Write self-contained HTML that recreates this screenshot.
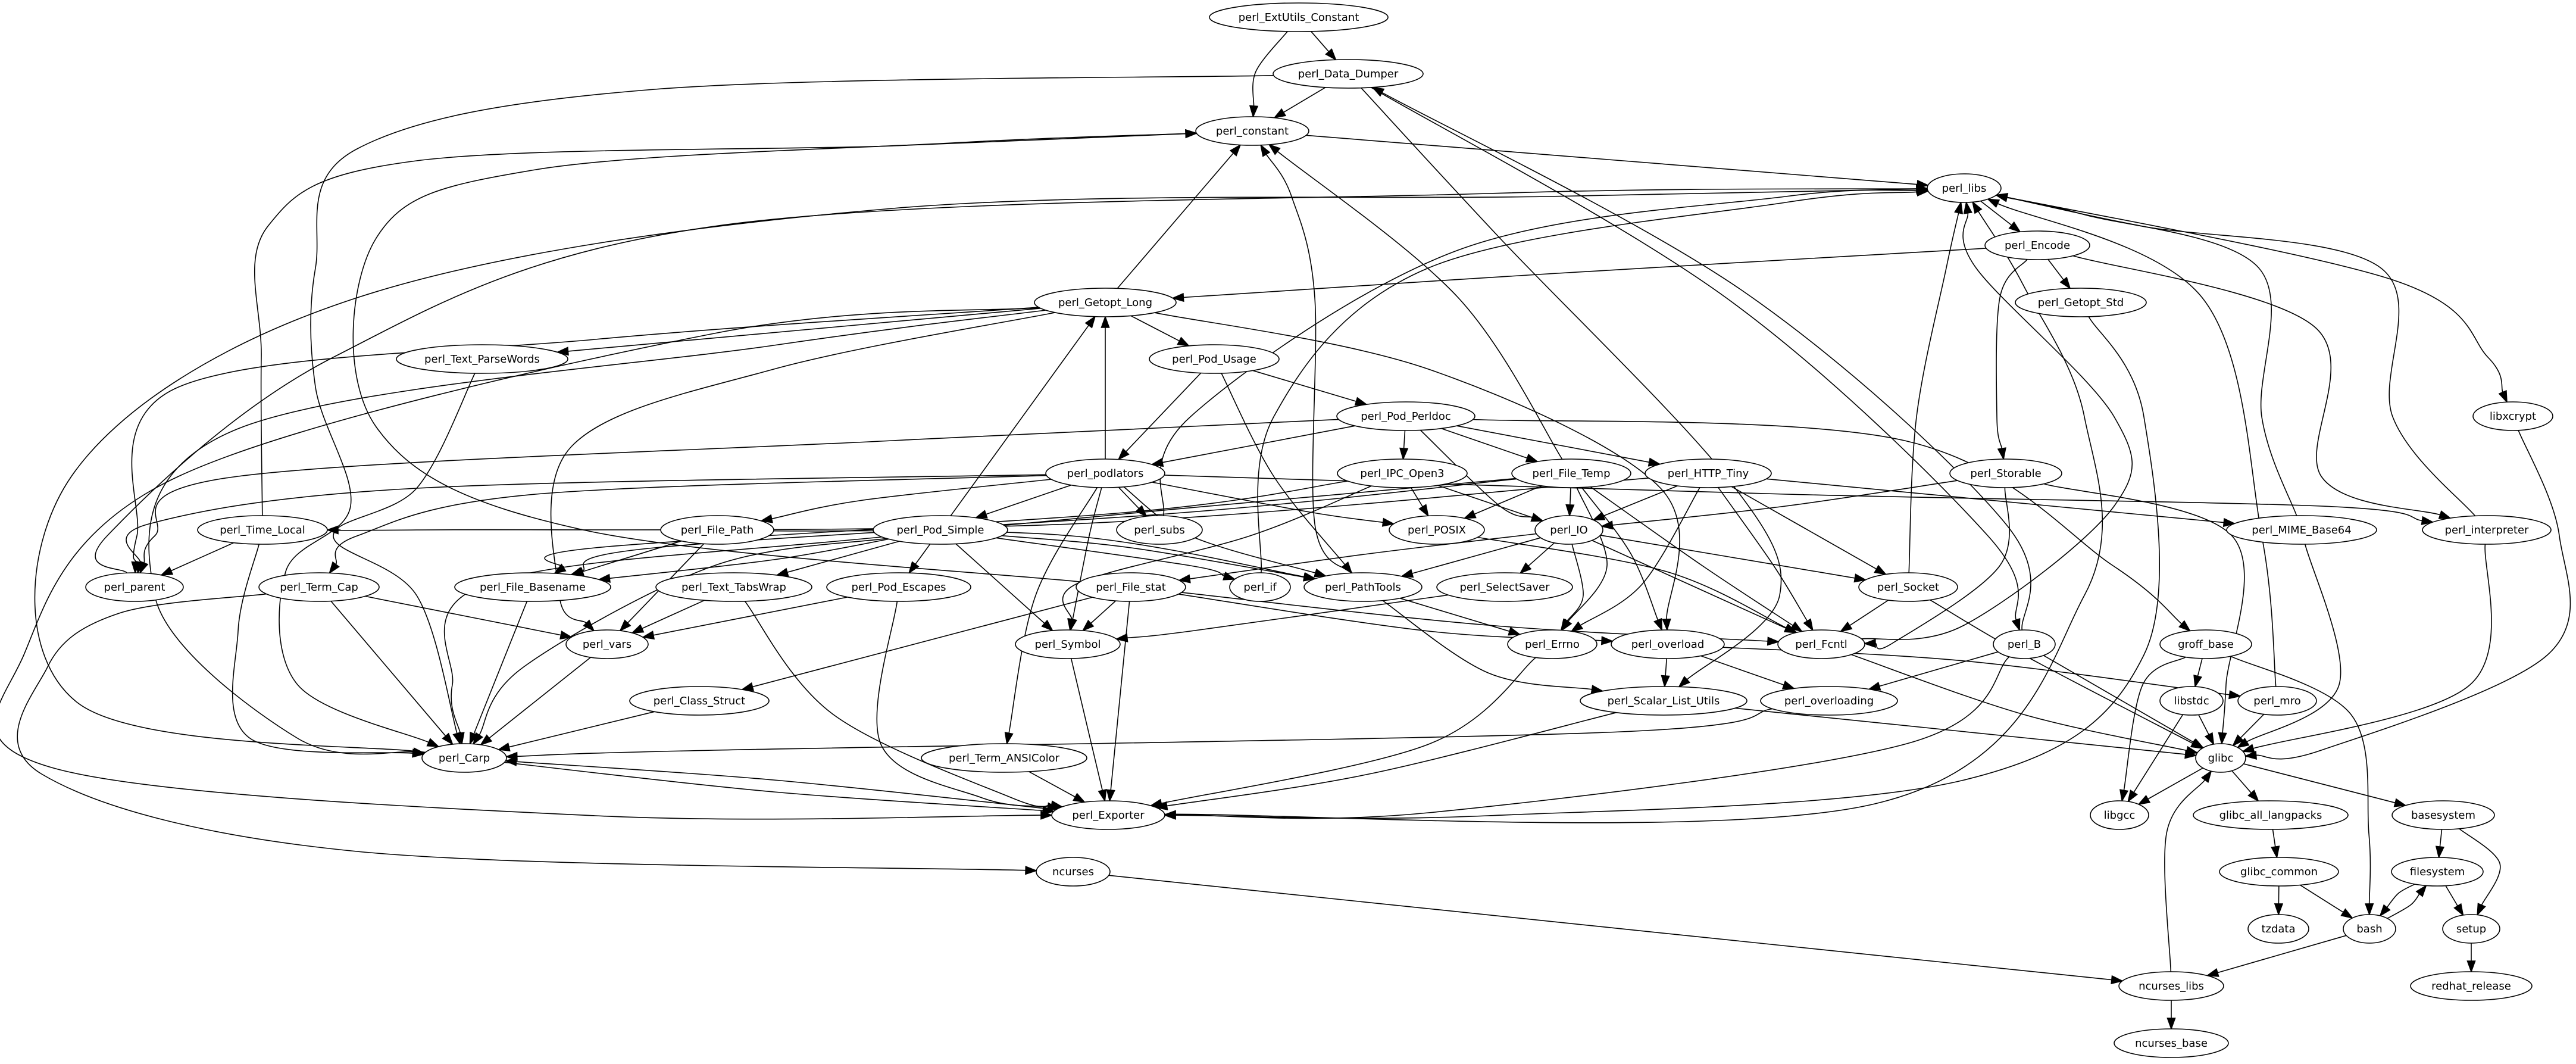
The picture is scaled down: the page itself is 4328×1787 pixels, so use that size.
<!DOCTYPE html>
<html><head><meta charset="utf-8">
<style>
html,body{margin:0;padding:0;background:#fff;}
svg{display:block;}
text{font-family:"DejaVu Sans","Liberation Sans",sans-serif;font-size:18px;fill:#000;}
</style></head>
<body>
<svg id="g" xmlns="http://www.w3.org/2000/svg" width="4328" height="1787" viewBox="0 0 4328 1787">
<rect width="4328" height="1787" fill="#fff"/>
<g id="edges" fill="none" stroke="#000" stroke-width="1.6"></g>
<g id="arrows" fill="#000" stroke="#000" stroke-width="1.6"></g>
<g id="nodes" fill="#fff" stroke="#000" stroke-width="1.6">
<ellipse cx="2182" cy="29" rx="150" ry="24"/>
<ellipse cx="2265" cy="124" rx="126" ry="24"/>
<ellipse cx="2104" cy="220" rx="95" ry="24"/>
<ellipse cx="3300" cy="316" rx="62" ry="24"/>
<ellipse cx="3423" cy="412" rx="88" ry="24"/>
<ellipse cx="1857" cy="508" rx="119" ry="24"/>
<ellipse cx="3496" cy="508" rx="110" ry="24"/>
<ellipse cx="810" cy="603" rx="144" ry="24"/>
<ellipse cx="2040" cy="603" rx="109" ry="24"/>
<ellipse cx="2362" cy="699" rx="116" ry="24"/>
<ellipse cx="4222" cy="699" rx="67" ry="24"/>
<ellipse cx="1857" cy="795" rx="100" ry="24"/>
<ellipse cx="2356" cy="795" rx="109" ry="24"/>
<ellipse cx="2640" cy="795" rx="100" ry="24"/>
<ellipse cx="2870" cy="795" rx="106" ry="24"/>
<ellipse cx="3370" cy="795" rx="94" ry="24"/>
<ellipse cx="441" cy="890" rx="109" ry="24"/>
<ellipse cx="1205" cy="890" rx="95" ry="24"/>
<ellipse cx="1580" cy="890" rx="113" ry="24"/>
<ellipse cx="1948" cy="890" rx="72" ry="24"/>
<ellipse cx="2414" cy="890" rx="80" ry="24"/>
<ellipse cx="2636" cy="890" rx="57" ry="24"/>
<ellipse cx="3867" cy="890" rx="126" ry="24"/>
<ellipse cx="4178" cy="890" rx="108" ry="24"/>
<ellipse cx="226" cy="986" rx="82" ry="24"/>
<ellipse cx="536" cy="986" rx="101" ry="24"/>
<ellipse cx="895" cy="986" rx="131" ry="24"/>
<ellipse cx="1233" cy="986" rx="131" ry="24"/>
<ellipse cx="1510" cy="986" rx="121" ry="24"/>
<ellipse cx="1900" cy="986" rx="92" ry="24"/>
<ellipse cx="2117" cy="986" rx="51" ry="24"/>
<ellipse cx="2290" cy="986" rx="99" ry="24"/>
<ellipse cx="2528" cy="986" rx="114" ry="24"/>
<ellipse cx="3206" cy="986" rx="83" ry="24"/>
<ellipse cx="1020" cy="1082" rx="69" ry="24"/>
<ellipse cx="1794" cy="1082" rx="88" ry="24"/>
<ellipse cx="2608" cy="1082" rx="75" ry="24"/>
<ellipse cx="2802" cy="1082" rx="95" ry="24"/>
<ellipse cx="3060" cy="1082" rx="73" ry="24"/>
<ellipse cx="3401" cy="1082" rx="52" ry="24"/>
<ellipse cx="3706" cy="1082" rx="77" ry="24"/>
<ellipse cx="1175" cy="1177" rx="117" ry="24"/>
<ellipse cx="2795" cy="1177" rx="140" ry="24"/>
<ellipse cx="3073" cy="1177" rx="115" ry="24"/>
<ellipse cx="3682" cy="1177" rx="53" ry="24"/>
<ellipse cx="3826" cy="1177" rx="66" ry="24"/>
<ellipse cx="780" cy="1273" rx="71" ry="24"/>
<ellipse cx="1687" cy="1273" rx="139" ry="24"/>
<ellipse cx="3731" cy="1273" rx="42" ry="24"/>
<ellipse cx="1862" cy="1369" rx="95" ry="24"/>
<ellipse cx="3561" cy="1369" rx="49" ry="24"/>
<ellipse cx="3815" cy="1369" rx="130" ry="24"/>
<ellipse cx="4105" cy="1369" rx="86" ry="24"/>
<ellipse cx="1803" cy="1464" rx="62" ry="24"/>
<ellipse cx="3829" cy="1464" rx="100" ry="24"/>
<ellipse cx="4095" cy="1464" rx="77" ry="24"/>
<ellipse cx="3828" cy="1560" rx="51" ry="24"/>
<ellipse cx="3981" cy="1560" rx="44" ry="24"/>
<ellipse cx="4152" cy="1560" rx="48" ry="24"/>
<ellipse cx="3648" cy="1656" rx="88" ry="24"/>
<ellipse cx="4152" cy="1656" rx="102" ry="24"/>
<ellipse cx="3648" cy="1752" rx="96" ry="24"/>
</g>
<g text-anchor="middle">
<text x="2182" y="35">perl_ExtUtils_Constant</text>
<text x="2265" y="130">perl_Data_Dumper</text>
<text x="2104" y="226">perl_constant</text>
<text x="3300" y="322">perl_libs</text>
<text x="3423" y="418">perl_Encode</text>
<text x="1857" y="514">perl_Getopt_Long</text>
<text x="3496" y="514">perl_Getopt_Std</text>
<text x="810" y="609">perl_Text_ParseWords</text>
<text x="2040" y="609">perl_Pod_Usage</text>
<text x="2362" y="705">perl_Pod_Perldoc</text>
<text x="4222" y="705">libxcrypt</text>
<text x="1857" y="801">perl_podlators</text>
<text x="2356" y="801">perl_IPC_Open3</text>
<text x="2640" y="801">perl_File_Temp</text>
<text x="2870" y="801">perl_HTTP_Tiny</text>
<text x="3370" y="801">perl_Storable</text>
<text x="441" y="896">perl_Time_Local</text>
<text x="1205" y="896">perl_File_Path</text>
<text x="1580" y="896">perl_Pod_Simple</text>
<text x="1948" y="896">perl_subs</text>
<text x="2414" y="896">perl_POSIX</text>
<text x="2636" y="896">perl_IO</text>
<text x="3867" y="896">perl_MIME_Base64</text>
<text x="4178" y="896">perl_interpreter</text>
<text x="226" y="992">perl_parent</text>
<text x="536" y="992">perl_Term_Cap</text>
<text x="895" y="992">perl_File_Basename</text>
<text x="1233" y="992">perl_Text_TabsWrap</text>
<text x="1510" y="992">perl_Pod_Escapes</text>
<text x="1900" y="992">perl_File_stat</text>
<text x="2117" y="992">perl_if</text>
<text x="2290" y="992">perl_PathTools</text>
<text x="2528" y="992">perl_SelectSaver</text>
<text x="3206" y="992">perl_Socket</text>
<text x="1020" y="1088">perl_vars</text>
<text x="1794" y="1088">perl_Symbol</text>
<text x="2608" y="1088">perl_Errno</text>
<text x="2802" y="1088">perl_overload</text>
<text x="3060" y="1088">perl_Fcntl</text>
<text x="3401" y="1088">perl_B</text>
<text x="3706" y="1088">groff_base</text>
<text x="1175" y="1183">perl_Class_Struct</text>
<text x="2795" y="1183">perl_Scalar_List_Utils</text>
<text x="3073" y="1183">perl_overloading</text>
<text x="3682" y="1183">libstdc</text>
<text x="3826" y="1183">perl_mro</text>
<text x="780" y="1279">perl_Carp</text>
<text x="1687" y="1279">perl_Term_ANSIColor</text>
<text x="3731" y="1279">glibc</text>
<text x="1862" y="1375">perl_Exporter</text>
<text x="3561" y="1375">libgcc</text>
<text x="3815" y="1375">glibc_all_langpacks</text>
<text x="4105" y="1375">basesystem</text>
<text x="1803" y="1470">ncurses</text>
<text x="3829" y="1470">glibc_common</text>
<text x="4095" y="1470">filesystem</text>
<text x="3828" y="1566">tzdata</text>
<text x="3981" y="1566">bash</text>
<text x="4152" y="1566">setup</text>
<text x="3648" y="1662">ncurses_libs</text>
<text x="4152" y="1662">redhat_release</text>
<text x="3648" y="1758">ncurses_base</text>
</g>
</svg>
<script>
(function(){
var N={EC:[2182,29,150],DD:[2265,124,126],CO:[2104,220,95],LI:[3300,316,62],EN:[3423,412,88],
GL:[1857,508,119],GS:[3496,508,110],TP:[810,603,144],PU:[2040,603,109],PP:[2362,699,116],LX:[4222,699,67],
PO:[1857,795,100],IPC:[2356,795,109],FT:[2640,795,100],HT:[2870,795,106],ST:[3370,795,94],
TL:[441,890,109],FP:[1205,890,95],PS:[1580,890,113],SU:[1948,890,72],PX:[2414,890,80],IO:[2636,890,57],MB:[3867,890,126],IN:[4178,890,108],
PA:[226,986,82],TC:[536,986,101],FB:[895,986,131],TW:[1233,986,131],PE:[1510,986,121],FS:[1900,986,92],IF:[2117,986,51],PT:[2290,986,99],SS:[2528,986,114],SO:[3206,986,83],
VA:[1020,1082,69],SY:[1794,1082,88],ER:[2608,1082,75],OV:[2802,1082,95],FC:[3060,1082,73],B:[3401,1082,52],GB:[3706,1082,77],
CS:[1175,1177,117],SL:[2795,1177,140],OL:[3073,1177,115],LS:[3682,1177,53],MR:[3826,1177,66],
CA:[780,1273,71],TA:[1687,1273,139],GC:[3731,1273,42],EX:[1862,1369,95],LG:[3561,1369,49],GA:[3815,1369,130],BS:[4105,1369,86],
NC:[1803,1464,62],GCO:[3829,1464,100],FSY:[4095,1464,77],TZ:[3828,1560,51],BA:[3981,1560,44],SE:[4152,1560,48],
NL:[3648,1656,88],RR:[4152,1656,102],NB:[3648,1752,96]};
var E=[
["EC","DD"],["EC","CO",[[2110,120]]],["DD","CO"],
["DD","CA",[[1100,150],[600,250],[530,450],[530,650],[589,850],[480,960],[500,1150]]],
["DD","SL",[[2520,400],[2900,800],[2990,1000]]],
["DD","B",[[2900,500],[3340,900]]],["B","DD",[[3370,880],[2930,490]]],
["CO","LI"],
["TL","CO",[[439,600],[450,380],[700,270],[1500,245]]],
["FS","CO",[[980,890],[632,717],[632,400],[900,285],[1600,240]]],
["GL","CO"],["PT","CO",[[2209,880],[2209,500],[2170,330]]],["FT","CO",[[2450,500]]],
["LI","EN"],["LI","LX",[[4020,470],[4180,600]]],
["CA","LI",[[130,1180],[120,800],[600,500],[1500,350],[2600,330]]],
["PA","LI",[[180,900],[560,600],[1200,380],[2500,325]]],
["EX","LI",[[3150,1350],[3502,1000],[3502,700],[3400,480]]],
["IF","LI",[[2140,700],[2400,450],[3000,340]]],
["SU","LI",[[2000,700],[2450,420],[3000,330]]],
["SO","LI",[[3220,700],[3270,450]]],
["FC","LI",[[3300,1050],[3552,850],[3552,700],[3320,450]]],
["MB","LI",[[3800,700],[3795,450],[3500,360]]],
["IN","LI",[[4020,700],[4000,450],[3600,380]]],
["GL","TP"],["GL","PU"],
["GL","EX",[[1200,560],[300,800],[40,1100],[90,1290],[1000,1370]]],
["GL","PA",[[1000,570],[300,650],[230,900]]],
["GL","CA",[[1300,580],[400,720],[260,1000],[500,1240]]],
["GL","VA",[[1300,620],[960,750],[940,1000]]],
["GL","OV",[[2400,620],[2790,820]]],
["EN","GL",[[2600,460]]],["EN","GS"],["EN","ST",[[3360,500],[3355,700]]],["EN","IN",[[3890,550],[3900,800]]],
["GS","EX",[[3602,700],[3602,1100],[3300,1310],[2500,1370]]],
["TP","CA",[[700,820],[560,900],[700,1000]]],
["PU","PO"],["PU","PP"],["PU","PT",[[2140,800]]],
["PP","PO"],["PP","IPC"],["PP","FT"],["PP","HT"],["PP","IO",[[2520,850]]],
["PP","PA",[[1500,740],[400,800],[260,900]]],["PP","GB",[[3200,740],[3550,950]]],
["PO","GL"],["PO","PS"],["PO","SU"],["PO","FP",[[1450,840]]],["PO","TC",[[900,830],[600,900]]],
["PO","PT",[[2000,900]]],["PO","SY",[[1830,900]]],["PO","TA",[[1740,1000]]],["PO","PA",[[700,820],[250,880]]],
["PO","IN",[[3000,830],[3900,850]]],["PO","PX",[[2200,860]]],
["IPC","PX"],["IPC","IO"],["IPC","SY",[[2100,900],[1810,980]]],["IPC","FB",[[1900,860],[1000,920]]],
["FT","IO"],["FT","PX"],["FT","ER",[[2700,950]]],["FT","FC",[[2860,950]]],["FT","OV",[[2740,930]]],
["FT","FB",[[2000,860],[1100,920]]],["FT","CA",[[1500,900],[820,980],[760,1150]]],
["HT","IO"],["HT","SO"],["HT","FC",[[2980,950]]],["HT","ER",[[2760,980]]],["HT","TL",[[1800,880],[700,890]]],["HT","MB"],
["ST","IO",[[3000,850]]],["ST","FC",[[3360,950],[3180,1080]]],["ST","GC",[[3750,900],[3740,1150]]],
["TL","PA"],["TL","CA",[[400,1060],[420,1240]]],
["FP","FB"],["FP","VA"],["FP","PT",[[1800,900]]],
["PS","GL"],["PS","FB",[[1300,940]]],["PS","TW"],["PS","PE"],["PS","SY"],["PS","IF",[[2000,950]]],
["PS","PT",[[1900,920]]],["PS","CA",[[1200,950],[880,1120]]],
["IO","PT"],["IO","SS"],["IO","ER",[[2660,1000]]],["IO","FS",[[2300,930]]],["IO","FC"],["IO","SO"],
["PX","FC",[[2800,960]]],
["TC","VA"],["TC","CA"],["TC","NC",[[200,1030],[80,1120],[70,1300],[600,1430]]],
["FB","CA"],["TW","VA"],["TW","EX",[[1400,1200],[1700,1340]]],
["PE","VA"],["PE","EX",[[1480,1250],[1650,1340]]],
["FS","SY"],["FS","EX"],["FS","CS"],["FS","FC",[[2500,1050]]],["FS","OV",[[2400,1060]]],
["PT","ER"],["PT","SL",[[2500,1130]]],["SS","SY",[[2000,1060]]],
["SO","FC"],["SO","GC",[[3400,1100]]],
["VA","CA"],["SY","EX"],["ER","EX",[[2400,1250]]],
["OV","SL"],["OV","OL"],["OV","MR",[[3300,1110]]],
["FC","GC",[[3400,1200]]],
["B","EX",[[3200,1250],[2400,1365]]],["B","OL"],["B","GC"],
["GB","LS"],["GB","LG",[[3600,1150]]],["GB","BA",[[3950,1200],[3980,1400]]],
["SL","EX",[[2300,1300]]],["SL","GC"],
["OL","CA",[[2700,1230],[1200,1260]]],
["LS","GC"],["LS","LG"],["MR","GC"],["MR","LI",[[3800,900],[3700,500]]],
["CS","CA"],["TA","EX"],["CA","EX",[[1300,1330]]],["EX","CA",[[1300,1310]]],
["GC","LG"],["GC","GA"],["GC","BS"],
["MB","GC",[[3930,1150]]],["IN","GC",[[4150,1150]]],["LX","GC",[[4300,900],[4280,1100],[3900,1260]]],
["GA","GCO"],["BS","FSY"],["BS","SE",[[4200,1450]]],
["GCO","TZ"],["GCO","BA"],["FSY","BA",[[4030,1500]]],["BA","FSY",[[4050,1520]]],["FSY","SE"],["SE","RR"],
["BA","NL"],["NC","NL"],["NL","NB"],["NL","GC",[[3640,1400]]]
];
var RY=24;
function clip(n,tx,ty){var cx=n[0],cy=n[1],rx=n[2];var dx=tx-cx,dy=ty-cy;
 var t=1/Math.sqrt((dx/rx)*(dx/rx)+(dy/RY)*(dy/RY));return [cx+dx*t,cy+dy*t];}
var eg=document.getElementById('edges'),ag=document.getElementById('arrows');
var NS='http://www.w3.org/2000/svg';
E.forEach(function(e){
 var a=N[e[0]],b=N[e[1]],v=e[2]||[];
 var first=v.length?v[0]:[b[0],b[1]],last=v.length?v[v.length-1]:[a[0],a[1]];
 var p0=clip(a,first[0],first[1]),pe=clip(b,last[0],last[1]);
 var prev=v.length?last:p0;
 var dx=pe[0]-prev[0],dy=pe[1]-prev[1],L=Math.sqrt(dx*dx+dy*dy)||1;
 var ux=dx/L,uy=dy/L,AL=18,AW=6.5;
 var pend=[pe[0]-ux*AL,pe[1]-uy*AL];
 var pts=[p0].concat(v).concat([pend]);
 var d='M'+pts[0][0].toFixed(1)+','+pts[0][1].toFixed(1);
 for(var i=0;i<pts.length-1;i++){
  var P0=pts[i-1]||pts[i],P1=pts[i],P2=pts[i+1],P3=pts[i+2]||pts[i+1];
  var c1=[P1[0]+(P2[0]-P0[0])/6,P1[1]+(P2[1]-P0[1])/6];
  var c2=[P2[0]-(P3[0]-P1[0])/6,P2[1]-(P3[1]-P1[1])/6];
  d+=' C'+c1[0].toFixed(1)+','+c1[1].toFixed(1)+' '+c2[0].toFixed(1)+','+c2[1].toFixed(1)+' '+P2[0].toFixed(1)+','+P2[1].toFixed(1);
 }
 var p=document.createElementNS(NS,'path');p.setAttribute('d',d);eg.appendChild(p);
 var tri=document.createElementNS(NS,'polygon');
 tri.setAttribute('points',pe[0]+','+pe[1]+' '+(pend[0]-uy*AW)+','+(pend[1]+ux*AW)+' '+(pend[0]+uy*AW)+','+(pend[1]-ux*AW));
 ag.appendChild(tri);
});
})();
</script>
</body></html>
